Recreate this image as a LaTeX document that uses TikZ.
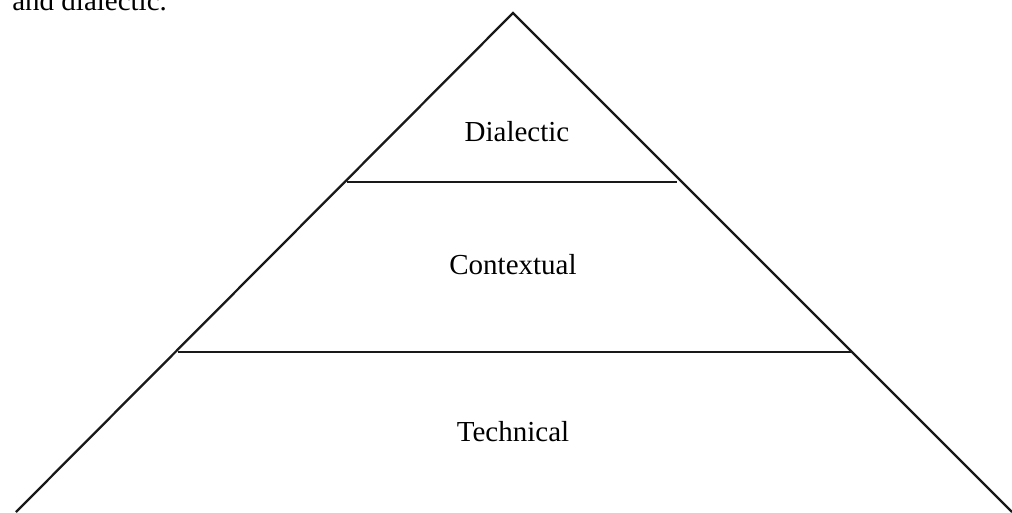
\documentclass[tikz,border=0pt]{standalone}
\usepackage{fontspec}
\setmainfont{Liberation Serif}
\usetikzlibrary{positioning, calc}

\begin{document}
\begin{tikzpicture}[
        x=0.02cm, y=-0.02cm,
        edge/.style={line width=1.3pt, black!90},
        layer/.style={font=\fontsize{16.5}{20}\selectfont, anchor=base, inner sep=0pt},
        every node/.style={font=\fontsize{16.5}{20}\selectfont}
    ]
    \useasboundingbox (0,0) rectangle (1012,512);
    \clip (0,0) rectangle (1012,512);

    % Caption tail from the text above
    \node[anchor=base west, inner sep=0pt] (tail) at (12,10) {and dialectic.};

    % Pyramid corners
    \coordinate (apex) at (513,13);
    \coordinate (bl)   at (16,512);
    \coordinate (br)   at (1012,512);

    % Layer borders
    \coordinate (d1) at (347,182);
    \coordinate (d2) at (677,182);
    \coordinate (c1) at (178,352);
    \coordinate (c2) at (851,352);

    \draw[edge] (bl) -- (apex) -- (br);
    \draw[edge] (d1) -- (d2);
    \draw[edge] (c1) -- (c2);

    % Labels
    \node[layer] (dial) at (517,141) {Dialectic};
    \node[layer] (cont) at (513,274) {Contextual};
    \node[layer] (tech) at (513,441) {Technical};
\end{tikzpicture}
\end{document}
